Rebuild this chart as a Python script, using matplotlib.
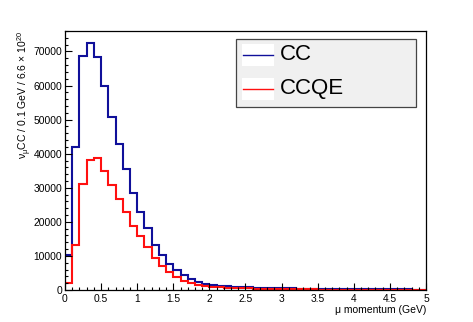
import numpy as np
import matplotlib.pyplot as plt
from matplotlib.patches import Rectangle
from matplotlib.lines import Line2D
from matplotlib.ticker import MultipleLocator

plt.rcParams['font.family'] = ['Liberation Sans', 'DejaVu Sans']
plt.rcParams['mathtext.fontset'] = 'custom'
plt.rcParams['mathtext.rm'] = 'Liberation Sans'
plt.rcParams['mathtext.it'] = 'Liberation Sans'

# 0.1 GeV bins from 0 to 5 GeV
bin_edges = np.round(np.arange(0, 5.01, 0.1), 2)

cc = [10300, 42100, 68600, 72400, 68300, 59900, 50900, 42800, 35600, 28500,
      23000, 18100, 13300, 10400, 7600, 6000, 4400, 3100, 2400, 1800,
      1400, 1200, 1100, 1000, 900, 800, 700, 650, 600, 550,
      500, 450, 420, 400, 370, 340, 310, 290, 270, 250,
      230, 210, 200, 190, 180, 170, 160, 150, 140, 130]

ccqe = [2100, 13100, 31100, 38100, 38600, 34900, 30900, 26700, 22800, 18700,
        15700, 12700, 9500, 7000, 5300, 3900, 2700, 2000, 1500, 1200,
        1000, 800, 700, 600, 500, 450, 400, 350, 300, 270,
        240, 210, 190, 170, 150, 130, 120, 110, 100, 90,
        80, 70, 65, 60, 55, 50, 45, 40, 35, 30]

labels = ['CC', 'CCQE']
colors = ['#10109a', '#ff1010']

fig = plt.figure(figsize=(4.73, 3.22), dpi=100)
ax = fig.add_axes([0.1374, 0.0994, 0.9006 - 0.1374, 0.9037 - 0.0994])

ax.stairs(cc, bin_edges, baseline=None, color=colors[0], linewidth=1.5)
ax.stairs(ccqe, bin_edges, baseline=None, color=colors[1], linewidth=1.5)

ax.set_xlim(0, 5)
ax.set_ylim(0, 76000)
ax.xaxis.set_major_locator(MultipleLocator(0.5))
ax.xaxis.set_minor_locator(MultipleLocator(0.1))
ax.yaxis.set_major_locator(MultipleLocator(10000))
ax.yaxis.set_minor_locator(MultipleLocator(2000))
ax.xaxis.set_major_formatter(plt.FuncFormatter(lambda v, p: f'{v:g}'))
ax.tick_params(which='both', direction='in', top=False, right=False, labelsize=7.4)
ax.tick_params(which='major', length=5, width=0.8)
ax.tick_params(which='minor', length=2.5, width=0.8)
ax.tick_params(axis='y', pad=2)
ax.tick_params(axis='x', pad=3)
for s in ax.spines.values():
    s.set_linewidth(0.9)

ax.text(1.0, -0.058, 'μ momentum (GeV)', transform=ax.transAxes,
        ha='right', va='top', fontsize=7.5)
ax.text(-0.11, 1.0, r'ν$_{\mathrm{μ}}$CC / 0.1 GeV / 6.6 $\times$ 10$^{20}$',
        transform=ax.transAxes, rotation=90, ha='center', va='top', fontsize=7.5)

# legend box drawn like ROOT's TLegend
x0, x1 = 0.474, 0.972
y0, y1 = 0.707, 0.971
ax.add_patch(Rectangle((x0, y0), x1 - x0, y1 - y0, transform=ax.transAxes,
                       facecolor='#f0f0f0', edgecolor='#444444', linewidth=0.9,
                       zorder=5))
rows = [0.908, 0.777]
for yc, lab, col in zip(rows, labels, colors):
    ax.add_patch(Rectangle((0.491, yc - 0.043), 0.087, 0.086, transform=ax.transAxes,
                           facecolor='white', edgecolor='none', zorder=6))
    ax.add_line(Line2D([0.493, 0.576], [yc, yc], transform=ax.transAxes,
                       color=col, linewidth=1.0, zorder=7))
    ax.text(0.595, yc, lab, transform=ax.transAxes, ha='left', va='center',
            fontsize=16, zorder=7)

fig.savefig('out.png', dpi=100)
